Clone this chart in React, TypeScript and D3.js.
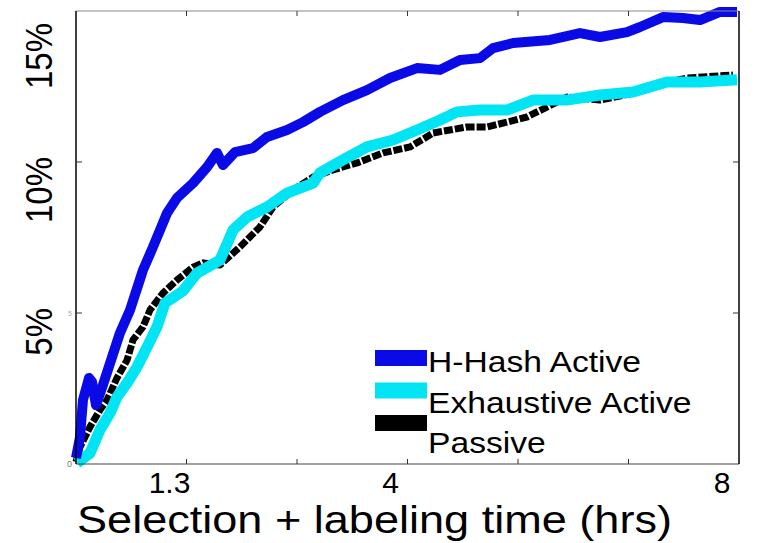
import React, { useRef, useEffect } from 'react';
import * as d3 from 'd3';

// x in tick units (0..6), y in percent
const hHashX = [0, 0.036, 0.063, 0.118, 0.145, 0.181, 0.244, 0.326, 0.398, 0.489, 0.606, 0.697, 0.824, 0.914, 1.059, 1.186, 1.276, 1.33, 1.439, 1.602, 1.729, 1.91, 2.054, 2.208, 2.416, 2.633, 2.842, 3.086, 3.294, 3.475, 3.656, 3.774, 3.955, 4.29, 4.561, 4.742, 4.986, 5.104, 5.312, 5.493, 5.647, 5.828, 5.982];
const hHashY = [0.2, 0.89, 2.12, 2.85, 2.72, 1.95, 2.62, 3.54, 4.34, 5.1, 6.42, 7.19, 8.31, 8.81, 9.3, 9.83, 10.3, 9.9, 10.33, 10.46, 10.83, 11.06, 11.32, 11.66, 12.05, 12.38, 12.78, 13.11, 13.05, 13.38, 13.44, 13.77, 13.94, 14.04, 14.27, 14.14, 14.3, 14.47, 14.8, 14.77, 14.7, 14.97, 14.97];

const exhaustiveX = [0.009, 0.127, 0.217, 0.308, 0.371, 0.462, 0.552, 0.643, 0.733, 0.805, 0.968, 1.095, 1.303, 1.421, 1.548, 1.729, 1.91, 2.145, 2.208, 2.416, 2.633, 2.869, 3.086, 3.294, 3.448, 3.656, 3.9, 4.136, 4.443, 4.742, 5.041, 5.348, 5.647, 5.982];
const exhaustiveY = [0.03, 0.36, 1.13, 1.69, 2.22, 2.68, 3.21, 3.87, 4.54, 5.33, 5.73, 6.32, 6.75, 7.75, 8.18, 8.51, 8.97, 9.3, 9.64, 10.07, 10.5, 10.73, 11.06, 11.39, 11.66, 11.72, 11.72, 12.05, 12.05, 12.22, 12.32, 12.65, 12.65, 12.72];

const passiveX = [0, 0.036, 0.127, 0.217, 0.281, 0.371, 0.462, 0.516, 0.606, 0.67, 0.787, 0.914, 1.059, 1.149, 1.303, 1.484, 1.665, 1.783, 1.964, 2.145, 2.326, 2.543, 2.778, 3.023, 3.231, 3.538, 3.719, 3.9, 4.081, 4.443, 4.742, 5.041, 5.222, 5.529, 5.946];
const passiveY = [0.07, 0.56, 1.23, 1.79, 2.12, 2.85, 3.44, 4.11, 4.54, 5.1, 5.66, 6.09, 6.52, 6.66, 6.59, 7.19, 7.85, 8.51, 9.07, 9.5, 9.74, 9.97, 10.3, 10.5, 10.96, 11.16, 11.16, 11.32, 11.49, 12.15, 12.05, 12.28, 12.55, 12.78, 12.88];

const xTicks = [0, 1, 2, 3, 4, 5, 6];
const xTickLabels = [
  { at: 1, text: '1.3' },
  { at: 3, text: '4' },
  { at: 6, text: '8' },
];
const yTicks = [0, 5, 10, 15];
const yTickLabels = [5, 10, 15];

const seriesNames = ['H-Hash Active', 'Exhaustive Active', 'Passive'];
const seriesColors = ['#0a0ae6', '#00e4f4', '#000000'];

const W = 758;
const H = 543;
const M = { left: 76, right: 739, top: 11, bottom: 464 };

const App = () => {
  const svgRef = useRef<SVGSVGElement>(null);

  useEffect(() => {
    const svg = d3.select(svgRef.current);
    svg.selectAll('*').remove();
    const font = '"Liberation Sans", Arial, sans-serif';

    const x = d3.scaleLinear().domain([0, 6]).range([M.left, M.right]);
    const y = d3.scaleLinear().domain([0, 15]).range([M.bottom, M.top]);

    const line = d3
      .line<[number, number]>()
      .x((d) => x(d[0]))
      .y((d) => y(d[1]));

    const series = [
      { xs: passiveX, ys: passiveY, color: seriesColors[2], w: 7, dash: '9 2' },
      { xs: exhaustiveX, ys: exhaustiveY, color: seriesColors[1], w: 11, dash: null },
      { xs: hHashX, ys: hHashY, color: seriesColors[0], w: 10, dash: null },
    ];

    series.forEach((s) => {
      const pts = s.xs.map((v, i) => [v, s.ys[i]] as [number, number]);
      svg
        .append('path')
        .datum(pts)
        .attr('d', line)
        .attr('fill', 'none')
        .attr('stroke', s.color)
        .attr('stroke-width', s.w)
        .attr('stroke-linejoin', 'round')
        .attr('stroke-dasharray', s.dash);
    });

    // frame
    const g = svg.append('g');
    g.append('line').attr('x1', M.left).attr('x2', M.right).attr('y1', M.top).attr('y2', M.top).attr('stroke', '#888').attr('stroke-width', 1.2);
    g.append('line').attr('x1', M.left).attr('x2', M.right).attr('y1', M.bottom).attr('y2', M.bottom).attr('stroke', '#444').attr('stroke-width', 1.2);
    g.append('line').attr('x1', M.left).attr('x2', M.left).attr('y1', M.top).attr('y2', M.bottom).attr('stroke', '#000').attr('stroke-width', 1.5);
    g.append('line').attr('x1', M.right).attr('x2', M.right).attr('y1', M.top).attr('y2', M.bottom).attr('stroke', '#000').attr('stroke-width', 1.5);

    // ticks
    xTicks.slice(1, -1).forEach((t) => {
      g.append('line').attr('x1', x(t)).attr('x2', x(t)).attr('y1', M.bottom).attr('y2', M.bottom - 5).attr('stroke', '#333');
      g.append('line').attr('x1', x(t)).attr('x2', x(t)).attr('y1', M.top).attr('y2', M.top + 5).attr('stroke', '#333');
    });
    yTicks.slice(1, -1).forEach((t) => {
      g.append('line').attr('x1', M.left).attr('x2', M.left + 6).attr('y1', y(t)).attr('y2', y(t)).attr('stroke', '#333');
      g.append('line').attr('x1', M.right).attr('x2', M.right - 6).attr('y1', y(t)).attr('y2', y(t)).attr('stroke', '#333');
    });

    // faint small leftover labels
    g.append('text').attr('x', M.left - 4).attr('y', M.bottom + 3).attr('text-anchor', 'end')
      .attr('font-family', font).attr('font-size', 9).attr('fill', '#777').text('0');
    g.append('text').attr('x', M.left - 4).attr('y', y(5) + 3).attr('text-anchor', 'end')
      .attr('font-family', font).attr('font-size', 7).attr('fill', '#aaa').text('5');

    // x tick labels
    xTickLabels.forEach((l) => {
      svg.append('text')
        .attr('x', x(l.at) - 17)
        .attr('y', 493)
        .attr('text-anchor', 'middle')
        .attr('font-family', font)
        .attr('font-size', 30)
        .attr('fill', '#000')
        .text(l.text);
    });

    // y tick labels (rotated)
    yTickLabels.forEach((v) => {
      svg.append('text')
        .attr('transform', `translate(52,${Math.max(y(v) - 5, 23)}) scale(1.1,1) rotate(-90)`)
        .attr('text-anchor', 'end')
        .attr('font-family', font)
        .attr('font-size', 33)
        .attr('fill', '#000')
        .text(`${v}%`);
    });

    // x axis title
    svg.append('text')
      .attr('x', 77)
      .attr('y', 533)
      .attr('font-family', font)
      .attr('font-size', 38)
      .attr('textLength', 595)
      .attr('lengthAdjust', 'spacingAndGlyphs')
      .attr('fill', '#000')
      .text('Selection + labeling time (hrs)');

    // legend
    const leg = svg.append('g');
    seriesNames.forEach((name, i) => {
      leg.append('rect')
        .attr('x', 375)
        .attr('y', 350 + i * 32.5)
        .attr('width', 52)
        .attr('height', 16)
        .attr('fill', seriesColors[i]);
      leg.append('text')
        .attr('transform', `translate(428,${372 + i * 40.5}) scale(1.16,1)`)
        .attr('font-family', font)
        .attr('font-size', 29)
        .attr('fill', '#000')
        .text(name);
    });
  }, []);

  return (
    <div>
      <svg
        ref={svgRef}
        width={W}
        height={H}
        style={{ position: 'absolute', left: 0, top: 0, background: '#fff' }}
      ></svg>
    </div>
  );
};

export default App;
